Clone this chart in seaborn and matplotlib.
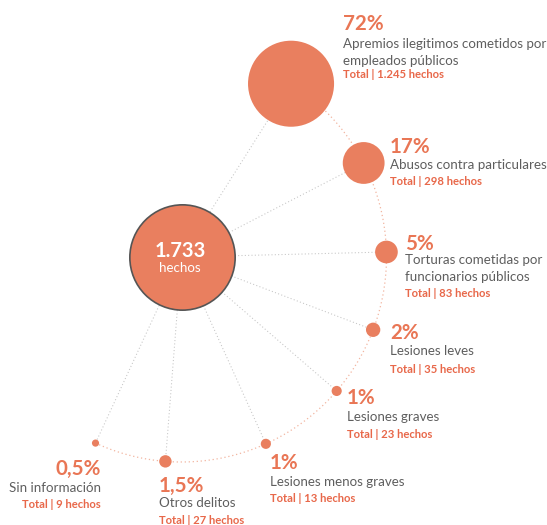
import numpy as np
import pandas as pd
import matplotlib
matplotlib.use("Agg")
import matplotlib.pyplot as plt
import seaborn as sns

# ---------------- data ----------------
categories = ["Apremios ilegitimos cometidos por\nempleados públicos",
              "Abusos contra particulares",
              "Torturas cometidas por\nfuncionarios públicos",
              "Lesiones leves",
              "Lesiones graves",
              "Lesiones menos graves",
              "Otros delitos",
              "Sin información"]
pct_values = [72, 17, 5, 2, 1, 1, 1.5, 0.5]
pct_labels = ["72%", "17%", "5%", "2%", "1%", "1%", "1,5%", "0,5%"]
hechos = ["1.245", "298", "83", "35", "23", "13", "27", "9"]
total_label = "1.733"

# ---------------- layout ----------------
W, H, DPI = 547, 525, 100
center = (181.5, 257)
ring_r = 205
angles_deg = [57.7, 27.3, 1.4, -20.8, -40.8, -65.7, -94.5, -114.8]
# text anchors: x, baseline of pct, label line baseline, total baseline, alignment
text_x = [343, 390, 405, 390, 347, 270, 159, 101]
pct_base = [30, 153, 250, 339, 404, 469, 492, 475]
lab_base = [48, 169, 264, 355, 421, 486, 507, 492]
tot_base = [78, 185, 297, 373, 438, 502, 524, 508]
align = ["left"] * 7 + ["right"]

ORANGE = "#E97F5F"
PCT_C = "#E97655"
TOT_C = "#E8684A"
GREY_T = "#5E5E5E"

sns.set_theme(style="white")
plt.rcParams["font.family"] = ["Lato", "DejaVu Sans"]

fig = plt.figure(figsize=(W / DPI, H / DPI), dpi=DPI)
ax = fig.add_axes([0, 0, 1, 1])
ax.set_xlim(0, W)
ax.set_ylim(H, 0)
ax.axis("off")

ang = np.radians(angles_deg)
xs = center[0] + ring_r * np.cos(ang)
ys = center[1] - ring_r * np.sin(ang)
df = pd.DataFrame({"x": xs, "y": ys, "pct": pct_values, "cat": categories})

# arc (dotted, light salmon)
t = np.linspace(ang[0], ang[-1], 300)
ax.plot(center[0] + ring_r * np.cos(t), center[1] - ring_r * np.sin(t),
        color="#F2B5A0", lw=0.9, ls=(0, (1, 2.2)), zorder=1)
# spokes
for x, y in zip(xs, ys):
    ax.plot([center[0], x], [center[1], y], color="#C4C4C4", lw=0.75,
            ls=(0, (1, 2.2)), zorder=1)

# satellites: area proportional to percentage
sns.scatterplot(data=df, x="x", y="y", size="pct", sizes=(0, 5330),
                size_norm=(0, 100), color=ORANGE, edgecolor="none",
                legend=False, ax=ax, zorder=3)
# center bubble
sns.scatterplot(x=[center[0]], y=[center[1]], s=5750, color=ORANGE,
                edgecolor="#555555", linewidth=1.2, legend=False, ax=ax, zorder=3)
ax.text(center[0] - 1.5, 257, total_label, color="white", fontsize=14.5,
        fontweight="bold", ha="center", va="baseline", zorder=5)
ax.text(center[0] - 1.5, 272.5, "hechos", color="white", fontsize=9.6,
        ha="center", va="baseline", zorder=5)

for i in range(len(categories)):
    ha = align[i]
    ax.text(text_x[i], pct_base[i], pct_labels[i], color=PCT_C, fontsize=14.8,
            fontweight="bold", ha=ha, va="baseline")
    lines = categories[i].split("\n")
    for j, ln in enumerate(lines):
        ax.text(text_x[i], lab_base[i] + j * 17, ln, color=GREY_T, fontsize=9.6,
                ha=ha, va="baseline")
    ax.text(text_x[i], tot_base[i], f"Total | {hechos[i]} hechos", color=TOT_C,
            fontsize=8.1, fontweight="bold", ha=ha, va="baseline")

fig.savefig("out.png", dpi=DPI)
